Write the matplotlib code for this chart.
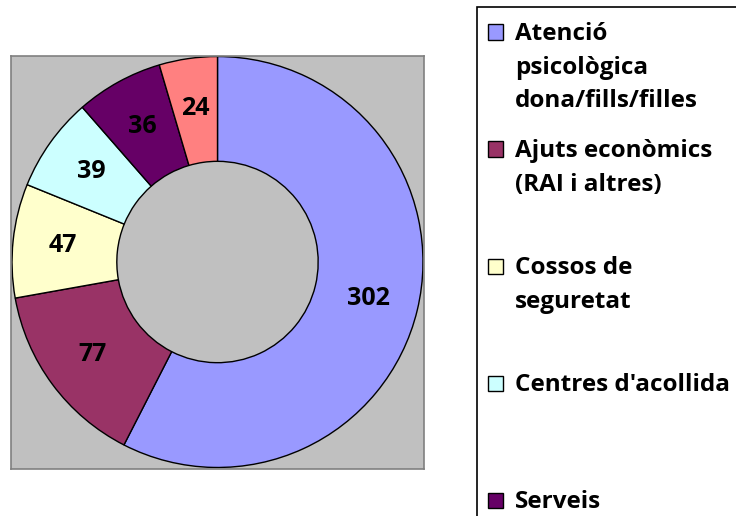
import matplotlib
matplotlib.use('Agg')
import matplotlib.pyplot as plt
from matplotlib.patches import Rectangle

## chart data
categories = ['Atenció\npsicològica\ndona/fills/filles',
              'Ajuts econòmics\n(RAI i altres)',
              'Cossos de\nseguretat',
              "Centres d'acollida",
              'Serveis',
              'Altres']
values = [302, 77, 47, 39, 36, 24]
colors = ['#9999FF', '#993366', '#FFFFCC', '#CCFFFF', '#660066', '#FF8080']

plt.rcParams['font.family'] = ['Open Sans', 'DejaVu Sans']
plt.rcParams['font.weight'] = 'bold'

W, H = 736, 516
fig = plt.figure(figsize=(W / 100, H / 100), dpi=100)

# plot area (grey square) in pixel coords
x0, x1, y0, y1 = 11, 424, 55, 469
ax = fig.add_axes([x0 / W, 1 - y1 / H, (x1 - x0) / W, (y1 - y0) / H])

total = sum(values)
wedges, texts, autotexts = ax.pie(
    values, colors=colors, startangle=90, counterclock=False, radius=1.0,
    wedgeprops=dict(width=0.51, edgecolor='black', linewidth=1.0),
    autopct=lambda p: '{:d}'.format(int(round(p * total / 100))),
    pctdistance=0.755,
    textprops=dict(fontsize=18, fontweight='bold', color='black'))
ax.set_frame_on(True)
ax.set_facecolor('#C0C0C0')
for s in ax.spines.values():
    s.set_visible(True)
    s.set_color('#808080')
    s.set_linewidth(1.2)
ax.set_xlim(-1.005, 1.005)
ax.set_ylim(-1.005, 1.005)
ax.set_aspect('equal', adjustable='box')
ax.set_xticks([])
ax.set_yticks([])

# legend box, clipped by the figure edge like the original
fig.patches.append(Rectangle((477 / W, -0.1), 0.5, 1 - 7 / H + 0.1,
                             transform=fig.transFigure, facecolor='white',
                             edgecolor='black', linewidth=1.2, zorder=0))

sq = 15
for i, (lab, c) in enumerate(zip(categories, colors)):
    yc = 32 + i * 117
    if yc > H:
        break  # rest of the legend lies below the picture
    fig.patches.append(Rectangle((488 / W, 1 - (yc + sq / 2) / H), sq / W, sq / H,
                                 transform=fig.transFigure, facecolor=c,
                                 edgecolor='black', linewidth=1.0, zorder=2))
    for j, line in enumerate(lab.split('\n')):
        fig.text(515 / W, 1 - (yc + 2 + j * 33.5) / H, line, fontsize=17.5,
                 fontweight='bold', va='center', ha='left')

fig.savefig('out.png', dpi=100)
